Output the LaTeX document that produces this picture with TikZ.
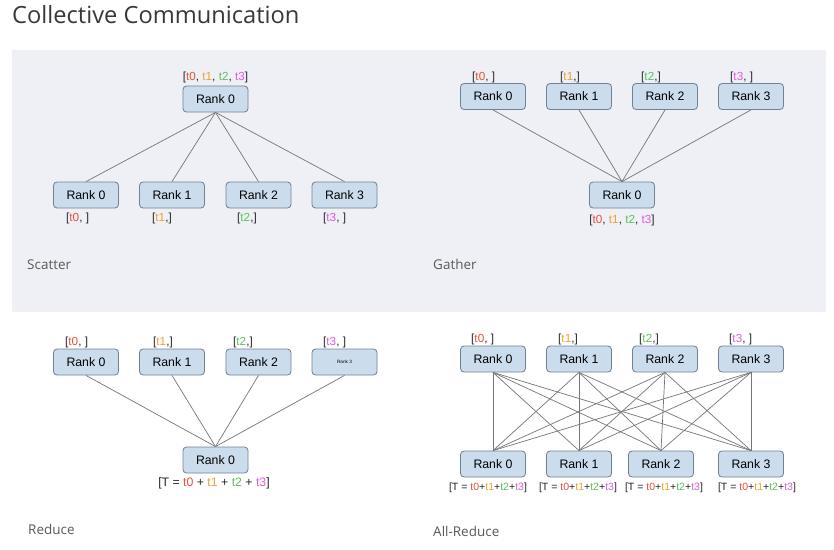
\documentclass[tikz,border=0pt]{standalone}
\usepackage{fontspec}
\setmainfont{Liberation Sans}
\newfontfamily\headfont{Open Sans}
\definecolor{panel}{RGB}{238,240,245}
\definecolor{boxfill}{RGB}{203,220,237}
\definecolor{boxline}{RGB}{115,130,146}
\definecolor{wire}{RGB}{118,118,118}
\definecolor{czero}{RGB}{232,80,60}
\definecolor{cone}{RGB}{240,160,50}
\definecolor{ctwo}{RGB}{90,195,90}
\definecolor{cthree}{RGB}{225,90,225}
\newcommand{\tz}{\textcolor{czero}{t0}}
\newcommand{\tone}{\textcolor{cone}{t1}}
\newcommand{\ttwo}{\textcolor{ctwo}{t2}}
\newcommand{\tthree}{\textcolor{cthree}{t3}}

\begin{document}
\begin{tikzpicture}[x=0.03cm,y=-0.03cm]
            \fill[white] (0,0) rectangle (834,549);
            \fill[panel] (12,50) rectangle (826,312);
            \node[anchor=west,inner sep=0pt,text=black!78,font=\headfont\fontsize{20.2}{24}\selectfont] (title) at (12,15) {Collective Communication};

            % section names
            \begin{scope}[every node/.style={anchor=west,inner sep=0pt,text=black!65,font=\headfont\fontsize{11.5}{14}\selectfont}]
                \node (scatter) at (27,265) {Scatter};
                \node (gather) at (433,264) {Gather};
                \node (reduce) at (28,529) {Reduce};
                \node (allreduce) at (433,531) {All-Reduce};
            \end{scope}

            % rank boxes
            \begin{scope}[every node/.style={fill=boxfill,draw=boxline,line width=0.7pt,rounded corners=3pt,minimum width=1.95cm,minimum height=0.78cm,inner sep=1pt,font=\fontsize{10.5}{12}\selectfont}]
                \node (sroot) at (215.5,99) {Rank 0};
                \node (s0) at (86,195) {Rank 0};
                \node (s1) at (172,195) {Rank 1};
                \node (s2) at (258.5,195) {Rank 2};
                \node (s3) at (344.5,195) {Rank 3};

                \node (g0) at (493,96.5) {Rank 0};
                \node (g1) at (579,96.5) {Rank 1};
                \node (g2) at (665,96.5) {Rank 2};
                \node (g3) at (751,96.5) {Rank 3};
                \node (groot) at (622,195) {Rank 0};

                \node (r0) at (86,362) {Rank 0};
                \node (r1) at (172,362) {Rank 1};
                \node (r2) at (258.5,362) {Rank 2};
                \node[font=\fontsize{4}{5}\selectfont] (r3) at (344.5,362) {Rank 3};
                \node (rroot) at (215.5,460) {Rank 0};

                \node (a0) at (493,359) {Rank 0};
                \node (a1) at (579,359) {Rank 1};
                \node (a2) at (665,359) {Rank 2};
                \node (a3) at (751,359) {Rank 3};
                \node (b0) at (493,464) {Rank 0};
                \node (b1) at (579,464) {Rank 1};
                \node (b2) at (661,464) {Rank 2};
                \node (b3) at (751,464) {Rank 3};
            \end{scope}

            % data labels
            \begin{scope}[every node/.style={inner sep=0pt,text=black!85,font=\fontsize{10}{12}\selectfont}]
                \node (sdata) at (215.5,77) {[\tz, \tone, \ttwo, \tthree]};
                \node[anchor=west] (sd0) at (66,218) {[\tz, ]};
                \node[anchor=west] (sd1) at (152,218) {[\tone,]};
                \node[anchor=west] (sd2) at (237,218) {[\ttwo,]};
                \node[anchor=west] (sd3) at (323,218) {[\tthree, ]};

                \node[anchor=west] (gd0) at (472,77) {[\tz, ]};
                \node[anchor=west] (gd1) at (560,77) {[\tone,]};
                \node[anchor=west] (gd2) at (641,77) {[\ttwo,]};
                \node[anchor=west] (gd3) at (730,77) {[\tthree, ]};
                \node (gdata) at (622,220) {[\tz, \tone, \ttwo, \tthree]};

                \node[anchor=west] (rd0) at (65,342) {[\tz, ]};
                \node[anchor=west] (rd1) at (153,342) {[\tone,]};
                \node[anchor=west] (rd2) at (233,342) {[\ttwo,]};
                \node[anchor=west] (rd3) at (323,342) {[\tthree, ]};
                \node[font=\fontsize{10.5}{12}\selectfont] (rdata) at (214,483) {[T = \tz{} + \tone{} + \ttwo{} + \tthree]};

                \node[anchor=west] (ad0) at (471,339) {[\tz, ]};
                \node[anchor=west] (ad1) at (558,339) {[\tone,]};
                \node[anchor=west] (ad2) at (639,339) {[\ttwo,]};
                \node[anchor=west] (ad3) at (729,339) {[\tthree, ]};
                \node[font=\fontsize{9}{11}\selectfont] (bd0) at (488,488) {[T = \tz+\tone+\ttwo+\tthree]};
                \node[font=\fontsize{9}{11}\selectfont] (bd1) at (578,488) {[T = \tz+\tone+\ttwo+\tthree]};
                \node[font=\fontsize{9}{11}\selectfont] (bd2) at (664,488) {[T = \tz+\tone+\ttwo+\tthree]};
                \node[font=\fontsize{9}{11}\selectfont] (bd3) at (757,488) {[T = \tz+\tone+\ttwo+\tthree]};
            \end{scope}

            % links
            \begin{scope}[every edge/.style={draw=wire,line width=0.6pt}]
                \path [-] (sroot.south) edge (s0.north);
                \path [-] (sroot.south) edge (s1.north);
                \path [-] (sroot.south) edge (s2.north);
                \path [-] (sroot.south) edge (s3.north);

                \path [-] (g0.south) edge (groot.north);
                \path [-] (g1.south) edge (groot.north);
                \path [-] (g2.south) edge (groot.north);
                \path [-] (g3.south) edge (groot.north);

                \path [-] (r0.south) edge (rroot.north);
                \path [-] (r1.south) edge (rroot.north);
                \path [-] (r2.south) edge (rroot.north);
                \path [-] (r3.south) edge (rroot.north);

                \path [-] (a0.south) edge (b0.north);
                \path [-] (a0.south) edge (b1.north);
                \path [-] (a0.south) edge (b2.north);
                \path [-] (a0.south) edge (b3.north);

                \path [-] (a1.south) edge (b0.north);
                \path [-] (a1.south) edge (b1.north);
                \path [-] (a1.south) edge (b2.north);
                \path [-] (a1.south) edge (b3.north);

                \path [-] (a2.south) edge (b0.north);
                \path [-] (a2.south) edge (b1.north);
                \path [-] (a2.south) edge (b2.north);
                \path [-] (a2.south) edge (b3.north);

                \path [-] (a3.south) edge (b0.north);
                \path [-] (a3.south) edge (b1.north);
                \path [-] (a3.south) edge (b2.north);
                \path [-] (a3.south) edge (b3.north);
            \end{scope}
        \end{tikzpicture}
\end{document}
